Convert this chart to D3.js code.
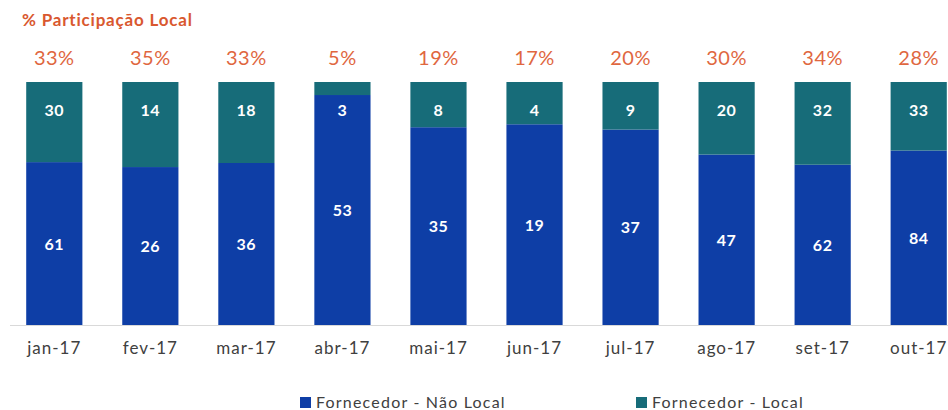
<!DOCTYPE html>
<html>
<head>
<meta charset="utf-8">
<script src="https://cdn.jsdelivr.net/npm/d3@7"></script>
<style>
  body { margin: 0; background: #fff; }
  svg { font-family: Lato, "Open Sans", sans-serif; }
</style>
</head>
<body>
<script>
// Chart data
var months = ["jan-17", "fev-17", "mar-17", "abr-17", "mai-17", "jun-17", "jul-17", "ago-17", "set-17", "out-17"];
var naoLocal = [61, 26, 36, 53, 35, 19, 37, 47, 62, 84];
var local = [30, 14, 18, 3, 8, 4, 9, 20, 32, 33];
var pctLocal = ["33%", "35%", "33%", "5%", "19%", "17%", "20%", "30%", "34%", "28%"];
var seriesNames = ["Fornecedor  - Não Local", "Fornecedor  - Local"];

var colors = ["#0e3ea6", "#176c79"];

window.onload = drawChart();

function drawChart(){
    var width = 948,
        height = 410;

    var svg = d3.select("body")
        .append("svg")
        .attr("width", width)
        .attr("height", height);

    // Band scale for months
    var x = d3.scaleBand()
        .domain(months)
        .range([7, 966])
        .paddingInner(0.415)
        .paddingOuter(0.2);

    // 100% stacked scale
    var y = d3.scaleLinear()
        .domain([0, 1])
        .range([325, 82]);

    var rows = months.map(function(m, i){
        var tot = naoLocal[i] + local[i];
        return { month: m, nl: naoLocal[i] / tot, l: local[i] / tot, i: i };
    });

    var stack = d3.stack().keys(["nl", "l"]);
    var layers = stack(rows);

    // Baseline
    svg.append("line")
        .attr("x1", 10).attr("x2", width)
        .attr("y1", y(0) + 0.5).attr("y2", y(0) + 0.5)
        .attr("stroke", "#d9d9d9")
        .attr("stroke-width", 1);

    svg.selectAll(".layer")
        .data(layers)
        .enter()
        .append("g")
        .attr("fill", function(d, i){ return colors[i]; })
        .selectAll("rect")
        .data(function(d){ return d; })
        .enter()
        .append("rect")
        .attr("x", function(d){ return x(d.data.month); })
        .attr("width", x.bandwidth())
        .attr("y", function(d){ return y(d[1]); })
        .attr("height", function(d){ return y(d[0]) - y(d[1]); });

    // Non-local labels, centred in the blue segment
    svg.selectAll(".lblNL")
        .data(rows)
        .enter()
        .append("text")
        .attr("x", function(d){ return x(d.month) + x.bandwidth() / 2; })
        .attr("y", function(d){ return (y(0) + y(d.nl)) / 2 + 6; })
        .attr("text-anchor", "middle")
        .attr("fill", "#fff")
        .attr("font-weight", "bold")
        .attr("font-size", "16px")
        .attr("letter-spacing", "0.5px")
        .text(function(d){ return naoLocal[d.i]; });

    // Local labels near the top of each bar
    svg.selectAll(".lblL")
        .data(rows)
        .enter()
        .append("text")
        .attr("x", function(d){ return x(d.month) + x.bandwidth() / 2; })
        .attr("y", y(1) + 34)
        .attr("text-anchor", "middle")
        .attr("fill", "#fff")
        .attr("font-weight", "bold")
        .attr("font-size", "16px")
        .attr("letter-spacing", "0.5px")
        .text(function(d){ return local[d.i]; });

    // Percent share labels above bars
    svg.selectAll(".pct")
        .data(rows)
        .enter()
        .append("text")
        .attr("x", function(d){ return x(d.month) + x.bandwidth() / 2; })
        .attr("y", 65)
        .attr("text-anchor", "middle")
        .attr("fill", "#e0673f")
        .attr("font-size", "20px")
        .attr("letter-spacing", "0.5px")
        .text(function(d){ return pctLocal[d.i]; });

    // Title
    svg.append("text")
        .attr("x", 22)
        .attr("y", 26)
        .attr("fill", "#d9582f")
        .attr("font-weight", "bold")
        .attr("font-size", "17px")
        .attr("letter-spacing", "0.8px")
        .text("% Participação  Local");

    // X axis labels
    var xAxis = svg.append("g")
        .attr("transform", "translate(0," + y(0) + ")")
        .call(d3.axisBottom(x).tickSize(0).tickPadding(17));
    xAxis.select(".domain").remove();
    xAxis.selectAll("text")
        .attr("fill", "#404040")
        .attr("font-size", "17px")
        .attr("letter-spacing", "1px")
        .attr("font-family", "Lato, 'Open Sans', sans-serif");

    // Legend
    var legendX = [300, 636];
    var legend = svg.selectAll(".legend")
        .data(seriesNames)
        .enter()
        .append("g")
        .attr("transform", function(d, i){ return "translate(" + legendX[i] + ",397)"; });
    legend.append("rect")
        .attr("width", 11).attr("height", 11)
        .attr("fill", function(d, i){ return colors[i]; });
    legend.append("text")
        .attr("x", 16)
        .attr("y", 11)
        .attr("fill", "#404040")
        .attr("font-size", "16px")
        .attr("letter-spacing", "1.2px")
        .text(function(d){ return d; });
}
</script>
</body>
</html>
